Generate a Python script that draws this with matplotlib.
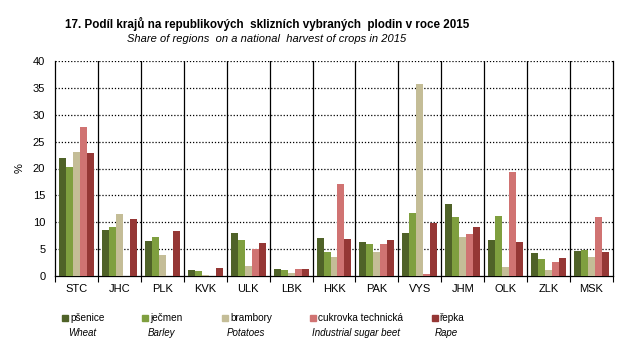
import numpy as np
import matplotlib
matplotlib.use("Agg")
import matplotlib.pyplot as plt
from matplotlib.patches import Rectangle

plt.rcParams['font.family'] = ['Liberation Sans', 'DejaVu Sans']

# data
regions = ["STC", "JHC", "PLK", "KVK", "ULK", "LBK", "HKK", "PAK", "VYS", "JHM", "OLK", "ZLK", "MSK"]
psenice = [22.0, 8.6, 6.5, 1.1, 8.0, 1.3, 7.1, 6.3, 8.0, 13.4, 6.7, 4.3, 4.7]
jecmen = [20.3, 9.1, 7.3, 0.9, 6.7, 1.1, 4.5, 6.0, 11.8, 11.0, 11.2, 3.2, 4.8]
brambory = [23.1, 11.6, 3.9, 0.2, 1.9, 0.6, 3.5, 4.5, 35.7, 7.3, 1.7, 1.1, 3.5]
cukrovka = [27.7, 0.0, 0.0, 0.0, 5.0, 1.3, 17.1, 6.0, 0.4, 7.8, 19.3, 2.6, 11.0]
repka = [22.9, 10.6, 8.4, 1.5, 6.1, 1.3, 6.9, 6.7, 9.9, 9.1, 6.3, 3.4, 4.5]

series = [psenice, jecmen, brambory, cukrovka, repka]
names_cz = ["pšenice", "ječmen", "brambory", "cukrovka technická", "řepka"]
names_en = ["Wheat", "Barley", "Potatoes", "Industrial sugar beet", "Rape"]
colors = ["#4F6228", "#7F9F3F", "#C4BD97", "#D07372", "#953735"]

fig = plt.figure(figsize=(6.39, 3.54), dpi=100)
ax = fig.add_axes([55 / 639, 1 - 276 / 354, 558 / 639, 215 / 354])

x = np.arange(len(regions))
w = 0.163
for i, (vals, c) in enumerate(zip(series, colors)):
    ax.bar(x + (i - 2) * w, vals, width=w, color=c, linewidth=0, zorder=3)

ax.set_xlim(-0.5, len(regions) - 0.5)
ax.set_ylim(0, 40)
ax.set_yticks(range(0, 41, 5))
ax.set_xticks(x)
ax.set_xticklabels(regions, fontsize=8)
ax.tick_params(axis='x', length=0, pad=6)
ax.set_xticks(np.arange(-0.5, len(regions)), minor=True)
ax.tick_params(axis='x', which='minor', length=4, width=0.8, direction='out')
ax.tick_params(axis='y', labelsize=8, length=0, pad=7)

# gridlines
for yv in range(5, 41, 5):
    ax.axhline(yv, color='black', linestyle=(0, (1, 1.5)), linewidth=0.9, zorder=1)
for b in np.arange(0.5, len(regions) - 1):
    ax.axvline(b, color='black', linewidth=0.9, zorder=1)

ax.spines['top'].set_visible(False)
for s in ['left', 'right', 'bottom']:
    ax.spines[s].set_linewidth(0.9)

ax.set_ylabel("%", fontsize=8, labelpad=6)

fig.text(267 / 639, 1 - 24 / 354, "17. Podíl krajů na republikových  sklizních vybraných  plodin v roce 2015",
         ha='center', va='center', fontsize=8.4, fontweight='bold')
fig.text(267 / 639, 1 - 39 / 354, "Share of regions  on a national  harvest of crops in 2015",
         ha='center', va='center', fontsize=8, style='italic')

# legend
sq_x = [62, 142, 222, 310, 432]
en_x = [68, 148, 227, 312, 435]
for sx, ex, c, cz, en in zip(sq_x, en_x, colors, names_cz, names_en):
    fig.patches.append(Rectangle((sx / 639, 1 - 321 / 354), 6 / 639, 6 / 354,
                                 transform=fig.transFigure, color=c, figure=fig))
    fig.text((sx + 8) / 639, 1 - 318 / 354, cz, ha='left', va='center', fontsize=7.2)
    fig.text(ex / 639, 1 - 333 / 354, en, ha='left', va='center', fontsize=7, style='italic')

fig.savefig("out.png", dpi=100)
